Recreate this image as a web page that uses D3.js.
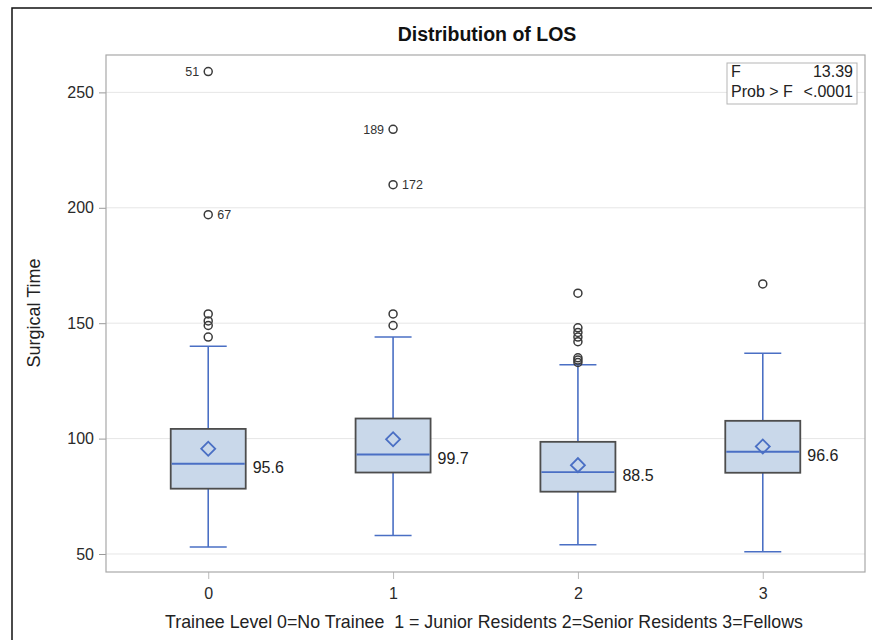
<!DOCTYPE html>
<html>
<head>
<meta charset="utf-8">
<script src="https://cdn.jsdelivr.net/npm/d3@7"></script>
<style>
body { margin: 0; background: #fff; }
text { font-family: "Liberation Sans", Arial, sans-serif; }
</style>
</head>
<body>
<script>
var w = 872;
var h = 640;
var plotLeft = 106, plotTop = 55, plotRight = 865, plotBottom = 572;

// box plot summary per trainee level
var categories = ["0", "1", "2", "3"];
var whiskerLow = [53, 58, 54, 51];
var q1 = [78.3, 85.3, 77, 85.2];
var median = [89.1, 93.1, 85.5, 94.3];
var q3 = [104.2, 108.7, 98.6, 107.7];
var whiskerHigh = [140, 144, 132, 137];
var means = [95.6, 99.7, 88.5, 96.6];
var outliers = [
    [259, 197, 154, 151, 149, 144],
    [234, 210, 154, 149],
    [163, 148, 146, 144, 142, 135, 134, 133],
    [167]
];
// labelled outliers: [group, value, id, side]
var outlierIds = [[0, 259, "51", "left"], [0, 197, "67", "right"],
    [1, 234, "189", "left"], [1, 210, "172", "right"]];
var yTicks = [50, 100, 150, 200, 250];
var statNames = ["F", "Prob > F"];
var statValues = ["13.39", "<.0001"];

var svg = d3.select("body")
    .append("svg")
    .attr("width", w)
    .attr("height", h);

svg.append("rect")
    .attr("width", w).attr("height", h)
    .attr("fill", "#fff");

// outer frame (only left/top visible in the picture)
svg.append("rect")
    .attr("x", 12).attr("y", 8)
    .attr("width", 900).attr("height", 700)
    .attr("fill", "none")
    .attr("stroke", "#111")
    .attr("stroke-width", 1.5);

var xScale = d3.scalePoint()
    .domain(categories)
    .range([plotLeft, plotRight])
    .padding(0.553);

var yScale = d3.scaleLinear()
    .domain([42.2, 266.2])
    .range([plotBottom, plotTop]);

// gridlines
svg.append("g")
    .selectAll("line")
    .data(yTicks)
    .enter()
    .append("line")
    .attr("x1", plotLeft).attr("x2", plotRight)
    .attr("y1", function(d) { return yScale(d); })
    .attr("y2", function(d) { return yScale(d); })
    .attr("stroke", "#e6e6e6")
    .attr("stroke-width", 1);

var yAxis = d3.axisLeft(yScale)
    .tickValues(yTicks)
    .tickSize(7)
    .tickPadding(5);
var gy = svg.append("g")
    .attr("transform", "translate(" + plotLeft + ",0)")
    .call(yAxis);
gy.select(".domain").remove();
gy.selectAll("line").attr("stroke", "#999");
gy.selectAll("text")
    .attr("font-size", "16px")
    .attr("fill", "#2a2a2a")
    .attr("font-family", "Liberation Sans, Arial, sans-serif");

var xAxis = d3.axisBottom(xScale)
    .tickSize(7)
    .tickPadding(9);
var gx = svg.append("g")
    .attr("transform", "translate(0," + plotBottom + ")")
    .call(xAxis);
gx.select(".domain").remove();
gx.selectAll("line").attr("stroke", "#bbb");
gx.selectAll("text")
    .attr("font-size", "16px")
    .attr("fill", "#2a2a2a")
    .attr("font-family", "Liberation Sans, Arial, sans-serif");

// plot frame
svg.append("rect")
    .attr("x", plotLeft).attr("y", plotTop)
    .attr("width", plotRight - plotLeft).attr("height", plotBottom - plotTop)
    .attr("fill", "none")
    .attr("stroke", "#a8a8a8")
    .attr("stroke-width", 1.2);

var boxW = 75, capW = 37;
var blue = "#4a6fc4";
var groups = svg.append("g")
    .selectAll("g")
    .data(categories)
    .enter()
    .append("g");

// whiskers
groups.append("line")
    .attr("x1", function(d) { return xScale(d); })
    .attr("x2", function(d) { return xScale(d); })
    .attr("y1", function(d, i) { return yScale(whiskerLow[i]); })
    .attr("y2", function(d, i) { return yScale(whiskerHigh[i]); })
    .attr("stroke", blue).attr("stroke-width", 1.6);

groups.selectAll(".cap")
    .data(function(d, i) { return [[d, whiskerLow[i]], [d, whiskerHigh[i]]]; })
    .enter()
    .append("line")
    .attr("x1", function(d) { return xScale(d[0]) - capW / 2; })
    .attr("x2", function(d) { return xScale(d[0]) + capW / 2; })
    .attr("y1", function(d) { return yScale(d[1]); })
    .attr("y2", function(d) { return yScale(d[1]); })
    .attr("stroke", blue).attr("stroke-width", 1.6);

// boxes
groups.append("rect")
    .attr("x", function(d) { return xScale(d) - boxW / 2; })
    .attr("y", function(d, i) { return yScale(q3[i]); })
    .attr("width", boxW)
    .attr("height", function(d, i) { return yScale(q1[i]) - yScale(q3[i]); })
    .attr("fill", "#c9d8ea")
    .attr("stroke", "#4d4d4d")
    .attr("stroke-width", 1.8);

groups.append("line")
    .attr("x1", function(d) { return xScale(d) - boxW / 2 + 1; })
    .attr("x2", function(d) { return xScale(d) + boxW / 2 - 1; })
    .attr("y1", function(d, i) { return yScale(median[i]); })
    .attr("y2", function(d, i) { return yScale(median[i]); })
    .attr("stroke", blue).attr("stroke-width", 1.8);

// mean diamonds
groups.append("path")
    .attr("d", d3.symbol(d3.symbolSquare, 98))
    .attr("transform", function(d, i) {
        return "translate(" + xScale(d) + "," + yScale(means[i]) + ") rotate(45)";
    })
    .attr("fill", "none")
    .attr("stroke", blue).attr("stroke-width", 1.8);

// mean labels, next to the median
groups.append("text")
    .text(function(d, i) { return means[i].toFixed(1); })
    .attr("x", function(d) { return xScale(d) + boxW / 2 + 7; })
    .attr("y", function(d, i) { return yScale(median[i]) + 9; })
    .attr("font-size", "16px")
    .attr("fill", "#222");

// outliers
groups.selectAll("circle")
    .data(function(d, i) { return outliers[i].map(function(v) { return [d, v]; }); })
    .enter()
    .append("circle")
    .attr("cx", function(d) { return xScale(d[0]); })
    .attr("cy", function(d) { return yScale(d[1]); })
    .attr("r", 4)
    .attr("fill", "none")
    .attr("stroke", "#3a3a3a")
    .attr("stroke-width", 1.5);

svg.append("g")
    .selectAll("text")
    .data(outlierIds)
    .enter()
    .append("text")
    .text(function(d) { return d[2]; })
    .attr("x", function(d) {
        var cx = xScale(categories[d[0]]);
        return d[3] == "left" ? cx - 9 : cx + 9;
    })
    .attr("y", function(d) { return yScale(d[1]) + 4.5; })
    .attr("text-anchor", function(d) { return d[3] == "left" ? "end" : "start"; })
    .attr("font-size", "12.5px")
    .attr("fill", "#333");

// stats inset
svg.append("rect")
    .attr("x", 727).attr("y", 63)
    .attr("width", 130).attr("height", 41)
    .attr("fill", "#fff")
    .attr("stroke", "#b5b5b5");

svg.append("g")
    .selectAll("text")
    .data(statNames)
    .enter()
    .append("text")
    .text(function(d) { return d; })
    .attr("x", 731)
    .attr("y", function(d, i) { return 77 + i * 20; })
    .attr("font-size", "16px")
    .attr("fill", "#222");

svg.append("g")
    .selectAll("text")
    .data(statValues)
    .enter()
    .append("text")
    .text(function(d) { return d; })
    .attr("x", 853)
    .attr("y", function(d, i) { return 77 + i * 20; })
    .attr("text-anchor", "end")
    .attr("font-size", "16px")
    .attr("fill", "#222");

// titles
svg.append("text")
    .text("Distribution of LOS")
    .attr("x", 487).attr("y", 41)
    .attr("text-anchor", "middle")
    .attr("font-size", "19.5px")
    .attr("font-weight", "bold")
    .attr("fill", "#111");

svg.append("text")
    .text("Surgical Time")
    .attr("transform", "translate(40," + 313 + ") rotate(-90)")
    .attr("text-anchor", "middle")
    .attr("font-size", "18px")
    .attr("fill", "#222");

svg.append("text")
    .text("Trainee Level 0=No Trainee\u00a0\u00a01 = Junior Residents 2=Senior Residents 3=Fellows")
    .attr("x", 484).attr("y", 628)
    .attr("text-anchor", "middle")
    .attr("font-size", "17.8px")
    .attr("fill", "#222");
</script>
</body>
</html>
